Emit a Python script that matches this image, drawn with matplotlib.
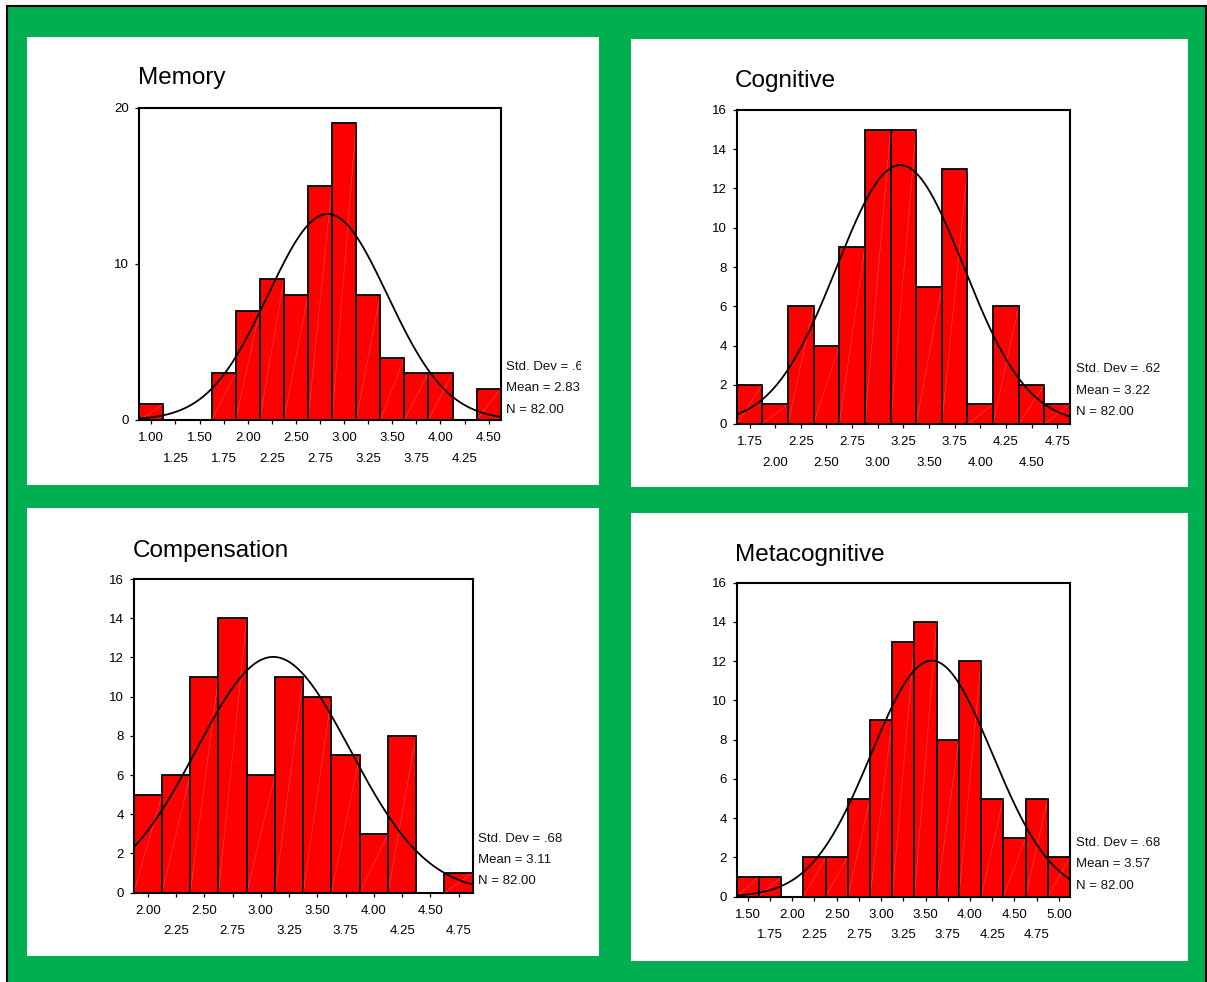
import numpy as np
import matplotlib
matplotlib.use("Agg")
import matplotlib.pyplot as plt
from matplotlib.patches import Rectangle
from matplotlib.transforms import Bbox

plt.rcParams['font.family'] = ['Liberation Sans', 'DejaVu Sans']

W, H = 1207, 982

# histogram bin centres (bin width .25) and frequencies
memory_bins = [1.00, 1.25, 1.50, 1.75, 2.00, 2.25, 2.50, 2.75, 3.00, 3.25, 3.50, 3.75, 4.00, 4.25, 4.50]
memory_counts = [1, 0, 0, 3, 7, 9, 8, 15, 19, 8, 4, 3, 3, 0, 2]
memory_sd, memory_mean, memory_n = 0.62, 2.83, 82

cognitive_bins = [1.75, 2.00, 2.25, 2.50, 2.75, 3.00, 3.25, 3.50, 3.75, 4.00, 4.25, 4.50, 4.75]
cognitive_counts = [2, 1, 6, 4, 9, 15, 15, 7, 13, 1, 6, 2, 1]
cognitive_sd, cognitive_mean, cognitive_n = 0.62, 3.22, 82

compensation_bins = [2.00, 2.25, 2.50, 2.75, 3.00, 3.25, 3.50, 3.75, 4.00, 4.25, 4.50, 4.75]
compensation_counts = [5, 6, 11, 14, 6, 11, 10, 7, 3, 8, 0, 1]
compensation_sd, compensation_mean, compensation_n = 0.68, 3.11, 82

metacognitive_bins = [1.50, 1.75, 2.00, 2.25, 2.50, 2.75, 3.00, 3.25, 3.50, 3.75, 4.00, 4.25, 4.50, 4.75, 5.00]
metacognitive_counts = [1, 1, 0, 2, 2, 5, 9, 13, 14, 8, 12, 5, 3, 5, 2]
metacognitive_sd, metacognitive_mean, metacognitive_n = 0.68, 3.57, 82

BIN_W = 0.25
GREEN = '#00B050'
RED = '#FF0000'

# layout in pixels: white card, axes box (l, t, r, b), title baseline, stats block, text clip edge
panels = [
    dict(title='Memory', bins=memory_bins, counts=memory_counts,
         sd=memory_sd, mean=memory_mean, n=memory_n, ymax=20, ystep=10,
         card=(27, 37, 599, 485), box=(139.3, 107.7, 500.7, 420),
         title_xy=(138, 84), stats_xy=(506.5, 367), clip_x=581),
    dict(title='Cognitive', bins=cognitive_bins, counts=cognitive_counts,
         sd=cognitive_sd, mean=cognitive_mean, n=cognitive_n, ymax=16, ystep=2,
         card=(631, 39, 1188, 487), box=(736.7, 110, 1070, 424),
         title_xy=(735, 87), stats_xy=(1076, 369.5), clip_x=None),
    dict(title='Compensation', bins=compensation_bins, counts=compensation_counts,
         sd=compensation_sd, mean=compensation_mean, n=compensation_n, ymax=16, ystep=2,
         card=(27, 508, 599, 956), box=(133.7, 579, 472.7, 892.7),
         title_xy=(133, 556.5), stats_xy=(478.3, 838.5), clip_x=None),
    dict(title='Metacognitive', bins=metacognitive_bins, counts=metacognitive_counts,
         sd=metacognitive_sd, mean=metacognitive_mean, n=metacognitive_n, ymax=16, ystep=2,
         card=(631, 513, 1188, 961), box=(736.7, 582.7, 1070, 896.7),
         title_xy=(735, 561), stats_xy=(1076, 843), clip_x=None),
]

fig = plt.figure(figsize=(W / 100, H / 100), dpi=100, facecolor='white')

# background canvas in pixel coordinates
bg = fig.add_axes([0, 0, 1, 1])
bg.set_xlim(0, W)
bg.set_ylim(H, 0)
bg.axis('off')
bg.add_patch(Rectangle((6.5, 5.5), 1199.5, 990, facecolor=GREEN,
                       edgecolor='black', linewidth=1.5))

for p in panels:
    x0, y0, x1, y1 = p['card']
    bg.add_patch(Rectangle((x0, y0), x1 - x0, y1 - y0, facecolor='white',
                           edgecolor='none'))
    bg.text(p['title_xy'][0], p['title_xy'][1], p['title'], fontsize=17.5,
            ha='left', va='baseline', color='black')

    sd_txt = f"{p['sd']:.2f}".lstrip('0')
    lines = [f"Std. Dev = {sd_txt}", f"Mean = {p['mean']:.2f}", f"N = {p['n']:.2f}"]
    sx, sy = p['stats_xy']
    for k, line in enumerate(lines):
        t = bg.text(sx, sy + k * 21.3, line, fontsize=9.5, ha='left',
                    va='center', color='#111111')
        if p['clip_x'] is not None:
            t.set_clip_box(Bbox.from_extents(0, 0, p['clip_x'], H))
            t.set_clip_on(True)

    l, t_, r, b = p['box']
    ax = fig.add_axes([l / W, 1 - b / H, (r - l) / W, (b - t_) / H])
    bins = np.array(p['bins'])
    counts = np.array(p['counts'])
    lo, hi = bins[0] - BIN_W / 2, bins[-1] + BIN_W / 2

    ax.bar(bins, counts, width=BIN_W, color=RED, edgecolor='black',
           linewidth=1.3, zorder=2)
    # faint diagonal sheen across each bar
    for c, v in zip(bins, counts):
        if v > 0:
            ax.plot([c - BIN_W / 2, c + BIN_W / 2], [0, v], color='white',
                    lw=0.5, alpha=0.25, zorder=3)

    # fitted normal curve scaled to the counts
    xs = np.linspace(lo, hi, 400)
    scale = p['n'] * BIN_W / (p['sd'] * np.sqrt(2 * np.pi))
    ax.plot(xs, scale * np.exp(-0.5 * ((xs - p['mean']) / p['sd']) ** 2),
            color='black', lw=1.3, zorder=4)

    ax.set_xlim(lo, hi)
    ax.set_ylim(0, p['ymax'])
    ax.set_yticks(np.arange(0, p['ymax'] + 1, p['ystep']))
    ax.set_xticks(bins[::2])
    ax.set_xticklabels([f"{v:.2f}" for v in bins[::2]])
    ax.set_xticks(bins[1::2], minor=True)
    ax.set_xticklabels([f"{v:.2f}" for v in bins[1::2]], minor=True)
    ax.tick_params(axis='both', which='both', direction='out', length=2.9,
                   width=0.9, labelsize=9.5, colors='black')
    ax.tick_params(axis='x', which='major', pad=5.8)
    ax.tick_params(axis='x', which='minor', pad=20.5)
    ax.tick_params(axis='y', pad=4.3)
    for s in ax.spines.values():
        s.set_linewidth(1.5)
        s.set_color('black')
    ax.set_facecolor('white')

fig.savefig('out.png', dpi=100)
